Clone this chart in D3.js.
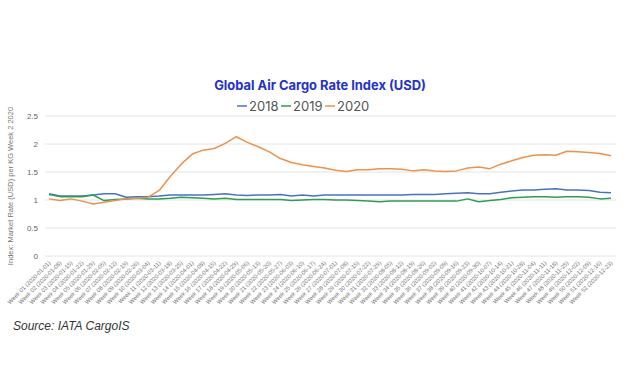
<!DOCTYPE html>
<html><head><meta charset="utf-8">
<script src="https://cdn.jsdelivr.net/npm/d3@7"></script>
<style>body{margin:0;background:#fff;}svg{display:block;}</style>
</head><body>
<script>
const weeks = ["Week 01 (2020-01-01)","Week 02 (2020-01-08)","Week 03 (2020-01-15)","Week 04 (2020-01-22)","Week 05 (2020-01-29)","Week 06 (2020-02-05)","Week 07 (2020-02-12)","Week 08 (2020-02-19)","Week 09 (2020-02-26)","Week 10 (2020-03-04)","Week 11 (2020-03-11)","Week 12 (2020-03-18)","Week 13 (2020-03-25)","Week 14 (2020-04-01)","Week 15 (2020-04-08)","Week 16 (2020-04-15)","Week 17 (2020-04-22)","Week 18 (2020-04-29)","Week 19 (2020-05-06)","Week 20 (2020-05-13)","Week 21 (2020-05-20)","Week 22 (2020-05-27)","Week 23 (2020-06-03)","Week 24 (2020-06-10)","Week 25 (2020-06-17)","Week 26 (2020-06-24)","Week 27 (2020-07-01)","Week 28 (2020-07-08)","Week 29 (2020-07-15)","Week 30 (2020-07-22)","Week 31 (2020-07-29)","Week 32 (2020-08-05)","Week 33 (2020-08-12)","Week 34 (2020-08-19)","Week 35 (2020-08-26)","Week 36 (2020-09-02)","Week 37 (2020-09-09)","Week 38 (2020-09-16)","Week 39 (2020-09-23)","Week 40 (2020-09-30)","Week 41 (2020-10-07)","Week 42 (2020-10-14)","Week 43 (2020-10-21)","Week 44 (2020-10-28)","Week 45 (2020-11-04)","Week 46 (2020-11-11)","Week 47 (2020-11-18)","Week 48 (2020-11-25)","Week 49 (2020-12-02)","Week 50 (2020-12-09)","Week 51 (2020-12-16)","Week 52 (2020-12-23)"];

const s2018 = [1.11,1.07,1.07,1.07,1.09,1.11,1.11,1.05,1.06,1.06,1.07,1.09,1.09,1.09,1.09,1.10,1.11,1.09,1.08,1.09,1.09,1.10,1.07,1.09,1.07,1.09,1.09,1.09,1.09,1.09,1.09,1.09,1.09,1.10,1.10,1.10,1.11,1.12,1.13,1.11,1.11,1.14,1.16,1.18,1.18,1.19,1.20,1.18,1.18,1.17,1.14,1.13];
const s2019 = [1.10,1.06,1.06,1.06,1.09,0.99,1.01,1.02,1.03,1.02,1.02,1.03,1.05,1.04,1.03,1.02,1.03,1.01,1.01,1.01,1.01,1.01,0.99,1.00,1.01,1.01,1.00,1.00,0.99,0.98,0.97,0.98,0.98,0.98,0.98,0.98,0.98,0.98,1.02,0.97,0.99,1.01,1.04,1.05,1.06,1.06,1.05,1.06,1.06,1.05,1.02,1.03];
const s2020 = [1.02,0.99,1.02,0.98,0.93,0.96,0.99,1.02,1.03,1.05,1.17,1.42,1.64,1.82,1.89,1.92,2.01,2.13,2.03,1.95,1.86,1.74,1.67,1.63,1.60,1.57,1.53,1.51,1.54,1.54,1.56,1.56,1.55,1.52,1.54,1.52,1.51,1.52,1.57,1.59,1.56,1.64,1.70,1.76,1.80,1.81,1.80,1.87,1.86,1.85,1.83,1.79];
const seriesNames = ["2018","2019","2020"];
const yTicks = [0,0.5,1,1.5,2,2.5];

const colors = {"2018":"#4a72c2","2019":"#2c9e55","2020":"#eb924f"};
const W=626,H=391;
const svg=d3.select("body").append("svg").attr("width",W).attr("height",H);
const x=d3.scalePoint().domain(weeks).range([49,611]);
const y=d3.scaleLinear().domain([0,2.5]).range([256,116]);

// gridlines
svg.append("g").selectAll("line").data(yTicks).join("line")
 .attr("x1",45).attr("x2",616).attr("y1",d=>y(d)).attr("y2",d=>y(d))
 .attr("stroke","#e4e4e4").attr("stroke-width",1);

// y axis labels
const ya=svg.append("g").attr("transform","translate(38,0)")
 .call(d3.axisLeft(y).tickValues(yTicks).tickSize(0).tickPadding(0).tickFormat(d3.format("~g")));
ya.select(".domain").remove();
ya.selectAll("text").attr("font-family","Liberation Sans, Arial, sans-serif").attr("font-size",8).attr("fill","#666");

// x axis labels
const xa=svg.append("g").attr("transform","translate(0,258)")
 .call(d3.axisBottom(x).tickSize(0).tickPadding(0));
xa.select(".domain").remove();
xa.selectAll("text").attr("font-family","Liberation Sans, Arial, sans-serif").attr("font-size",5.8).attr("fill","#777")
 .attr("text-anchor","end").attr("dy","0.35em").attr("transform","translate(0,4) rotate(-45)");

// y axis title
svg.append("text").attr("transform","translate(13,186) rotate(-90)").attr("text-anchor","middle")
 .attr("font-family","Liberation Sans, Arial, sans-serif").attr("font-size",7.5).attr("fill","#777")
 .text("Index: Market Rate (USD) per KG Week 2 2020");

// lines
const data={"2018":s2018,"2019":s2019,"2020":s2020};
const line=d3.line().x((d,i)=>x(weeks[i])).y(d=>y(d));
seriesNames.forEach(n=>{
 svg.append("path").datum(data[n]).attr("d",line).attr("fill","none")
  .attr("stroke",colors[n]).attr("stroke-width",1.5).attr("stroke-linejoin","round");
});

// title
svg.append("text").attr("x",320).attr("y",90).attr("text-anchor","middle")
 .attr("font-family","Inter, Open Sans, sans-serif").attr("font-weight","bold").attr("font-size",12.9).attr("fill","#2432c8")
 .text("Global Air Cargo Rate Index (USD)");

// legend
const lg=svg.append("g");
const lx=[237,281,325];
seriesNames.forEach((n,i)=>{
 lg.append("line").attr("x1",lx[i]).attr("x2",lx[i]+10).attr("y1",106).attr("y2",106).attr("stroke",colors[n]).attr("stroke-width",1.5);
 lg.append("text").attr("x",lx[i]+12).attr("y",111).attr("font-family","Inter, Open Sans, sans-serif").attr("font-size",13).attr("fill","#555").text(n);
});

// source
svg.append("text").attr("x",13).attr("y",330).attr("font-family","Liberation Sans, Arial, sans-serif").attr("font-style","italic")
 .attr("font-size",12).attr("fill","#333").text("Source: IATA CargoIS");
</script>
</body></html>
